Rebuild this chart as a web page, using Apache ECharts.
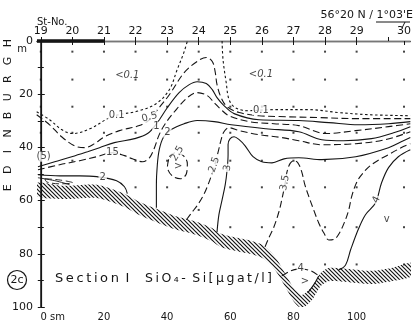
<!DOCTYPE html>
<html>
<head>
<meta charset="utf-8">
<script src="https://cdn.jsdelivr.net/npm/echarts@6/dist/echarts.min.js"></script>
<style>
  html, body { margin: 0; padding: 0; background: #fff; }
  #chart { width: 414px; height: 326px; }
</style>
</head>
<body>
<div id="chart"></div>
<script>
// section distance in sm, depth in m
const stationNames = ['19', '20', '21', '22', '23', '24', '25', '26', '27', '28', '29', '30'];
const stationDist = [0, 10, 20, 30, 40, 50, 60, 70, 80, 90, 100, 115];
const sampleDepths = [
  [4, 14.5, 24.7, 34.5, 45],
  [4, 14.5, 24.7, 34.5, 45],
  [4, 14.5, 24.7, 34.5, 45],
  [4, 14.5, 24.7, 34.5, 45, 55],
  [4, 14.5, 24.7, 34.5, 45, 55],
  [4, 14.5, 24.7, 34.5, 45, 55, 63.5],
  [4, 14.5, 24.7, 34.5, 45, 55, 70],
  [4, 14.5, 24.7, 34.5, 45, 55, 70],
  [4, 14.5, 24.7, 34.5, 45, 55, 70, 84],
  [4, 14.5, 24.7, 34.5, 45, 55, 70, 84],
  [4, 14.5, 24.7, 34.5, 45, 55, 70, 84],
  [4, 14.5, 24.7, 34.5, 45, 55, 70, 84]
];
const depthTicks = [0, 20, 40, 60, 80, 100];
const distTicks = [0, 20, 40, 60, 80, 100];
const coastSpan = [[-1.2, 0], [20, 0]];

const seabed = [[-1.3, 53.3], [6.9, 54.4], [17.7, 54.0], [25.9, 57.1], [31.2, 60.4], [36.6, 63.1], [42.3, 65.7],
  [49.5, 68.0], [54.0, 70.2], [57.1, 72.5], [62.1, 74.0], [66.6, 75.1], [70.7, 77.0], [74.4, 81.5], [77.6, 87.9],
  [80.1, 92.9], [82.6, 95.5], [85.8, 92.5], [88.6, 87.2], [91.2, 85.3], [97.5, 85.7], [104.7, 86.4], [111.0, 85.3], [117.5, 83.4]];

// isolines SiO4-Si
const iso01Left = [[-1.3, 26.6], [2.8, 29.6], [6.6, 33.3], [10.1, 34.8], [15.5, 33.0], [22.7, 28.4], [31.2, 26.2],
  [36.6, 23.5], [40.7, 18.3], [43.2, 10.7], [45.4, 4.0], [46.4, 0]];
const iso01Right = [[57.4, 0], [57.7, 7.0], [58.7, 15.6], [59.6, 22.0], [61.5, 25.0], [65.3, 26.2], [73.8, 25.8],
  [84.9, 25.8], [94.3, 26.9], [103.8, 27.7], [117, 28.1]];
const iso05 = [[-1.3, 27.7], [2.8, 31.5], [6.6, 36.0], [10.7, 39.4], [13.9, 40.1], [17.0, 38.6], [20.2, 36.0],
  [24.9, 33.7], [31.2, 31.8], [34.4, 29.6], [37.5, 25.0], [40.7, 20.2], [45.4, 11.9], [49.5, 7.7], [52.4, 6.2],
  [54.3, 7.7], [55.2, 11.5], [55.8, 16.4], [57.1, 21.3], [59.0, 24.7], [62.8, 26.9], [69.1, 28.1], [75.4, 28.4],
  [88.0, 28.8], [100.6, 29.2], [117, 29.2]];
const iso1 = [[-0.9, 47.3], [4.4, 45.4], [9.8, 43.5], [14.8, 41.6], [18.6, 40.1], [23.3, 38.2], [29.7, 36.7],
  [33.8, 34.8], [36.9, 30.7], [40.1, 25.0], [43.8, 19.4], [47.0, 16.4], [49.5, 15.3], [52.4, 16.0], [54.3, 18.3],
  [55.8, 21.3], [58.0, 24.3], [61.2, 27.3], [69.1, 29.6], [81.7, 29.9], [91.2, 30.7], [100.6, 31.5], [110.1, 31.1], [117, 30.3]];
const iso15 = [[-0.9, 48.4], [6.0, 46.5], [12.3, 45.0], [17.7, 43.5], [22.7, 42.0], [26.5, 43.1], [29.0, 44.3],
  [32.2, 45.4], [34.4, 43.9], [36.0, 40.1], [37.5, 35.2], [39.4, 31.1], [42.3, 26.6], [46.4, 21.3], [49.5, 19.4],
  [52.7, 20.5], [54.9, 23.2], [57.1, 25.8], [59.6, 28.1], [65.9, 30.3], [73.8, 31.1], [81.7, 31.8], [90.2, 34.8],
  [99.7, 33.7], [110.1, 32.2], [117, 31.1]];
const iso2Upper = [[36.6, 62.7], [36.6, 54.0], [36.9, 46.5], [37.5, 40.9], [38.8, 36.3], [41.3, 33.3], [45.4, 31.1],
  [49.5, 29.9], [54.9, 30.3], [60.3, 31.5], [71.3, 33.0], [81.7, 34.1], [89.0, 37.1], [95.9, 37.5], [104.7, 36.7],
  [111.7, 34.5], [117, 32.2]];
const iso2Lower = [[-0.9, 50.3], [6.0, 50.7], [12.3, 50.7], [17.7, 51.0], [24.0, 52.5], [26.5, 54.8], [27.4, 57.4]];
const isoShelfSolid = [[-0.9, 51.4], [4.4, 52.5], [9.1, 54.0]];
const isoShelfLoop = [[1.3, 51.8], [5.7, 52.2], [10.1, 53.3], [6.3, 53.7], [1.9, 53.0], [1.3, 51.8]];
const iso25 = [[46.1, 67.2], [48.0, 64.2], [49.5, 61.9], [51.4, 58.2], [52.7, 54.8], [53.9, 51.0], [54.9, 47.3],
  [56.1, 42.0], [57.1, 37.1], [58.0, 34.1], [59.6, 32.6], [62.8, 33.7], [69.1, 35.2], [76.3, 36.3], [81.7, 37.5],
  [89.0, 39.0], [99.7, 38.6], [109.1, 37.1], [117, 34.1]];
const iso25Loop = [[40.7, 43.5], [42.6, 42.0], [45.1, 43.1], [46.4, 46.1], [46.1, 49.9], [44.2, 51.8], [41.6, 50.7],
  [40.1, 47.3], [40.7, 43.5]];
const iso3 = [[55.8, 71.8], [56.4, 65.3], [57.4, 59.7], [58.4, 54.0], [59.0, 48.4], [59.3, 42.7], [59.3, 38.9],
  [59.9, 36.8], [61.2, 36.0], [62.8, 37.1], [64.7, 39.4], [67.2, 43.5], [70.0, 45.4], [73.2, 45.8], [77.0, 44.3],
  [81.7, 43.9], [89.0, 44.6], [99.7, 43.5], [110.1, 40.1], [114.8, 37.5], [117, 36.3]];
const iso35 = [[71.0, 77.4], [72.2, 74.0], [73.8, 69.9], [75.4, 64.2], [76.3, 59.7], [77.3, 54.0], [77.9, 49.5],
  [78.9, 46.1], [80.1, 45.0], [81.4, 45.8], [82.6, 49.1], [83.6, 54.0], [84.9, 58.6], [86.4, 63.5], [88.0, 68.4],
  [89.6, 72.1], [91.2, 74.8], [93.1, 74.4], [94.6, 72.1], [96.2, 68.0], [97.5, 63.5], [98.4, 58.6], [99.7, 54.0],
  [101.3, 50.7], [104.7, 46.5], [110.1, 42.7], [114.8, 39.7], [117, 38.6]];
const iso4 = [[117, 40.9], [113.2, 43.5], [110.1, 47.6], [107.9, 53.3], [106.0, 60.8], [102.8, 65.3], [100.6, 70.6],
  [98.1, 78.5], [96.5, 84.2], [94.3, 86.1]];
const iso4TroughDash = [[76.3, 88.3], [79.2, 86.4], [82.3, 85.7], [85.5, 86.4], [88.0, 88.3]];
const iso4TroughSolid = [[88.0, 88.3], [86.4, 91.7], [84.5, 94.7]];

const labelPos = [[27.4, 12.8], [69.7, 12.5], [24.0, 28.1], [34.4, 28.6], [36.6, 32.2], [40.1, 34.5], [69.7, 26.0],
  [22.7, 42.0], [19.6, 51.3], [54.9, 46.5], [59.1, 47.7], [77.3, 53.3], [106.3, 59.7], [82.3, 85.6],
  [43.3, 42.3], [43.5, 47.0], [83.6, 90.2], [109.5, 67.0], [0.9, 43.5]];
const labelText = ['<0.1', '<0.1', '0.1', '0.5', '1', '2', '0.1', '15', '2', '2.5', '3', '3.5', '4', '4',
  '2.5', '>', '>', 'v', '(5)'];
const labelRotate = [0, 0, 0, 15, 0, 0, 0, 0, 0, 72, 80, 80, 65, 0, 60, 0, 0, 0, 0];

const FONT = 'DejaVu Sans';
const INK = '#151515';
const X_MIN = -1.2, X_MAX = 117;
const BAND = 5;
const SHORT = [2.5, 2.5], LONG = [7, 3.5];

function hatchPattern() {
  const c = document.createElement('canvas');
  c.width = 4; c.height = 4;
  const ctx = c.getContext('2d');
  ctx.strokeStyle = INK;
  ctx.lineWidth = 1.2;
  ctx.beginPath();
  ctx.moveTo(-1, -1); ctx.lineTo(5, 5);
  ctx.moveTo(-1, 3); ctx.lineTo(1, 5);
  ctx.moveTo(3, -1); ctx.lineTo(5, 1);
  ctx.stroke();
  return c;
}
const hatch = hatchPattern();

function iso(data, dash, width) {
  return {
    type: 'line', data: data, symbol: 'none', smooth: 0.35, silent: true, z: 3,
    lineStyle: { color: INK, width: width || 1.1, type: dash || 'solid' }
  };
}

const dots = [];
stationDist.forEach((x, i) => sampleDepths[i].forEach(d => dots.push([x, d])));

const labelData = labelPos.map((p, i) => ({
  value: p,
  label: {
    formatter: labelText[i],
    rotate: labelRotate[i],
    fontStyle: labelText[i].startsWith('<') ? 'italic' : 'normal',
    backgroundColor: (labelText[i].startsWith('<') || labelText[i] === '>' || labelText[i] === 'v') ? 'transparent' : '#fff'
  }
}));

const chart = echarts.init(document.getElementById('chart'));

const option = {
  animation: false,
  grid: { left: 37, right: 2, top: 41, bottom: 19 },
  xAxis: [
    {
      type: 'value', min: X_MIN, max: X_MAX, position: 'bottom',
      axisLine: { lineStyle: { color: INK, width: 1.4 } },
      axisTick: { inside: true, length: 4, lineStyle: { color: INK }, customValues: [0, 10, 20, 30, 40, 50, 60, 70, 80, 90, 100, 110] },
      axisLabel: {
        customValues: distTicks, margin: 5, color: INK, fontFamily: FONT, fontSize: 10,
        formatter: v => v === 0 ? '{z|0 sm}' : String(v),
        rich: { z: { padding: [0, 0, 0, 24], fontFamily: FONT, fontSize: 10, color: INK } }
      },
      splitLine: { show: false }
    },
    {
      type: 'value', min: X_MIN, max: X_MAX, position: 'top',
      axisLine: { lineStyle: { color: '#777', width: 1 } },
      axisTick: { inside: true, length: 4, lineStyle: { color: INK }, customValues: stationDist },
      axisLabel: {
        customValues: stationDist, margin: 4, color: INK, fontFamily: FONT, fontSize: 11,
        formatter: v => stationNames[stationDist.indexOf(v)]
      },
      splitLine: { show: false }
    }
  ],
  yAxis: [
    {
      type: 'value', inverse: true, min: 0, max: 100, interval: 20, position: 'left',
      axisLine: { show: true, lineStyle: { color: INK, width: 1.5 } },
      axisTick: { show: true, inside: true, length: 4, lineStyle: { color: INK } },
      minorTick: { show: true, splitNumber: 2, length: 3, lineStyle: { color: INK } },
      axisLabel: { customValues: depthTicks, margin: 4, color: INK, fontFamily: FONT, fontSize: 11 },
      splitLine: { show: false }
    },
    {
      type: 'value', inverse: true, min: 0, max: 100, interval: 10, position: 'right',
      axisLine: { show: true, lineStyle: { color: INK, width: 1.2 } },
      axisTick: { show: true, inside: true, length: 3, lineStyle: { color: INK } },
      axisLabel: { show: false },
      splitLine: { show: false }
    }
  ],
  series: [
    {
      // hatched sea floor band below the bottom profile
      type: 'custom', data: seabed, silent: true, z: 1, clip: true,
      encode: { x: 0, y: 1 },
      renderItem: (params, api) => {
        if (params.dataIndex !== 0) return null;
        const top = seabed.map(p => api.coord(p));
        const bottom = seabed.slice().reverse().map(p => api.coord([p[0], p[1] + BAND]));
        return {
          type: 'polygon',
          shape: { points: top.concat(bottom), smooth: 0.25 },
          style: { fill: { image: hatch, repeat: 'repeat' }, stroke: null }
        };
      }
    },
    { type: 'line', data: coastSpan, symbol: 'none', clip: false, silent: true, z: 5, lineStyle: { color: INK, width: 3.5 } },
    iso(iso01Left, SHORT), iso(iso01Right, SHORT),
    iso(iso05, LONG),
    iso(iso1),
    iso(iso15, LONG),
    iso(iso2Upper), iso(iso2Lower),
    iso(isoShelfSolid, 'solid', 0.9), iso(isoShelfLoop, LONG, 0.9),
    iso(iso25, LONG), iso(iso25Loop, LONG),
    iso(iso3),
    iso(iso35, LONG),
    iso(iso4), iso(iso4TroughDash, LONG), iso(iso4TroughSolid),
    {
      type: 'scatter', data: dots, symbol: 'rect', symbolSize: 2, silent: true, z: 4,
      itemStyle: { color: INK }
    },
    {
      type: 'scatter', data: labelData, symbolSize: 1, silent: true, z: 6,
      itemStyle: { color: 'rgba(0,0,0,0)' },
      label: { show: true, position: 'inside', color: INK, fontFamily: FONT, fontSize: 10, padding: [0, 1] }
    }
  ],
  graphic: [
    { type: 'text', x: 37, y: 22, style: { text: 'St-No.', font: '10px "DejaVu Sans"', fill: INK, textVerticalAlign: 'middle' } },
    { type: 'text', x: 413, y: 15, style: { text: '56°20 N / 1°03\'E', font: '11px "DejaVu Sans"', fill: INK, textAlign: 'right', textVerticalAlign: 'middle' } },
    { type: 'line', shape: { x1: 376, y1: 22, x2: 410, y2: 22 }, style: { stroke: INK, lineWidth: 1 } },
    { type: 'line', shape: { x1: 405, y1: 22, x2: 402, y2: 28 }, style: { stroke: INK, lineWidth: 1 } },
    { type: 'text', x: 22, y: 49, style: { text: 'm', font: '10px "DejaVu Sans"', fill: INK, textAlign: 'center', textVerticalAlign: 'middle' } },
    { type: 'circle', shape: { cx: 17, cy: 280, r: 9.5 }, style: { fill: 'none', stroke: INK, lineWidth: 1.2 } },
    { type: 'text', x: 17, y: 280, style: { text: '2c', font: '11px "DejaVu Sans"', fill: INK, textAlign: 'center', textVerticalAlign: 'middle' } },
    { type: 'text', x: 55, y: 279, style: { text: 'S\u2009e\u2009c\u2009t\u2009i\u2009o\u2009n\u2009 I', font: '13px "DejaVu Sans"', fill: INK, textVerticalAlign: 'middle' } },
    { type: 'text', x: 145, y: 279, style: { text: 'S\u2009i\u2009O\u2009\u2084\u2009-\u2009 S\u2009i\u2009[\u2009\u03bc\u2009g\u2009a\u2009t\u2009/\u2009l\u2009]', font: '12.5px "DejaVu Sans"', fill: INK, textVerticalAlign: 'middle' } }
  ].concat('EDINBURGH'.split('').reverse().map((ch, i) => ({
    type: 'text', x: 8, y: 43 + i * 18.1, rotation: Math.PI / 2,
    style: { text: ch, font: '11px "DejaVu Sans"', fill: INK, textAlign: 'center', textVerticalAlign: 'middle' }
  })))
};

chart.setOption(option);
</script>
</body>
</html>
